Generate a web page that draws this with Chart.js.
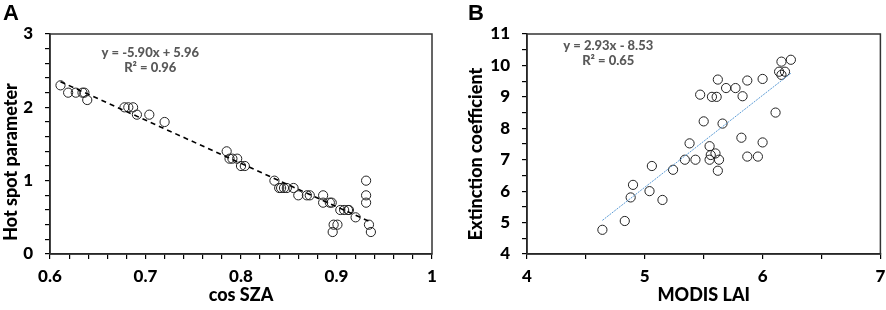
<!DOCTYPE html>
<html>
<head>
<meta charset="utf-8">
<script src="https://cdn.jsdelivr.net/npm/chart.js@4.4.1/dist/chart.umd.min.js"></script>
<style>
  html, body { margin: 0; padding: 0; background: #fff; }
  #wrap { position: relative; width: 886px; height: 310px; }
  canvas { position: absolute; top: 0; }
</style>
</head>
<body>
<div id="wrap">
  <canvas id="chartA" width="443" height="310" style="left:0"></canvas>
  <canvas id="chartB" width="443" height="310" style="left:443px"></canvas>
</div>
<script>
"use strict";

// Panel A: hot spot parameter vs cos SZA
const cosSza = [0.611, 0.619, 0.627, 0.634, 0.636, 0.639, 0.678, 0.682, 0.687, 0.691, 0.704, 0.720,
  0.785, 0.788, 0.791, 0.796, 0.800, 0.804, 0.835, 0.840, 0.842, 0.845, 0.848, 0.855, 0.860,
  0.869, 0.872, 0.886, 0.886, 0.893, 0.895, 0.897, 0.901, 0.896, 0.904, 0.908, 0.912, 0.913,
  0.920, 0.931, 0.931, 0.931, 0.934, 0.936];
const hotSpot = [2.3, 2.2, 2.2, 2.2, 2.2, 2.1, 2.0, 2.0, 2.0, 1.9, 1.9, 1.8,
  1.4, 1.3, 1.3, 1.3, 1.2, 1.2, 1.0, 0.9, 0.9, 0.9, 0.9, 0.9, 0.8,
  0.8, 0.8, 0.8, 0.7, 0.7, 0.7, 0.4, 0.4, 0.3, 0.6, 0.6, 0.6, 0.6,
  0.5, 1.0, 0.8, 0.7, 0.4, 0.3];
const fitAx = [0.611, 0.935];
const fitAy = [2.35, 0.44];
const eqA = ['y = -5.90x + 5.96', 'R² = 0.96'];

// Panel B: extinction coefficient vs MODIS LAI
const modisLai = [4.64, 4.83, 4.88, 4.90, 5.04, 5.06, 5.15, 5.24, 5.34, 5.38, 5.43, 5.47, 5.50,
  5.55, 5.55, 5.56, 5.57, 5.60, 5.61, 5.62, 5.62, 5.63, 5.66, 5.69, 5.77, 5.82, 5.83, 5.87,
  5.87, 5.96, 6.00, 6.00, 6.11, 6.14, 6.16, 6.16, 6.19, 6.24];
const extCoef = [4.77, 5.05, 5.8, 6.2, 6.0, 6.8, 5.72, 6.68, 7.0, 7.52, 7.0, 9.07, 8.22,
  7.0, 7.43, 7.15, 9.0, 7.2, 9.0, 9.55, 6.65, 7.0, 8.15, 9.28, 9.28, 7.7, 9.02, 9.52,
  7.1, 7.1, 9.57, 7.55, 8.5, 9.8, 10.12, 9.7, 9.8, 10.18];
const fitBx = [4.64, 6.24];
const fitBy = [5.07, 9.75];
const eqB = ['y = 2.93x - 8.53', 'R² = 0.65'];

Chart.defaults.font.family = 'Lato, "Open Sans", sans-serif';
Chart.defaults.color = '#000';

function pts(xs, ys) {
  return xs.map((x, i) => ({ x: x, y: ys[i] }));
}

// frame, panel letter, y title and equation text
function decorPlugin(p) {
  return {
    id: 'decor' + p.letter,
    afterDraw(chart) {
      const ctx = chart.ctx;
      const a = chart.chartArea;
      ctx.save();
      ctx.strokeStyle = '#333';
      ctx.lineWidth = 1.5;
      ctx.strokeRect(a.left, a.top, a.right - a.left, a.bottom - a.top);

      ctx.fillStyle = '#000';
      ctx.font = 'bold 22px "Liberation Sans", Arial, sans-serif';
      ctx.textAlign = 'left';
      ctx.textBaseline = 'middle';
      ctx.fillText(p.letter, p.letterX, 14);

      // y axis title, sits a little below the plot centre like the original
      ctx.save();
      ctx.translate(p.yTitleX, p.yTitleY);
      ctx.rotate(-Math.PI / 2);
      ctx.font = '900 18px Lato, sans-serif';
      ctx.textAlign = 'center';
      ctx.fillText(p.yTitle, 0, 0);
      ctx.restore();

      ctx.fillStyle = '#595959';
      ctx.font = '900 13px Lato, sans-serif';
      ctx.textAlign = 'center';
      const sx = chart.scales.x, sy = chart.scales.y;
      p.eq.forEach((t, i) => {
        ctx.fillText(t, sx.getPixelForValue(p.eqX), sy.getPixelForValue(p.eqY[i]));
      });
      ctx.restore();
    }
  };
}

function buildOptions(cfg) {
  const tickFont = { size: 17, weight: '900' };
  const titleFont = { size: 18, weight: '900' };
  return {
    responsive: false,
    animation: false,
    layout: { padding: { top: 34, right: cfg.padRight, left: 0, bottom: 0 } },
    plugins: { legend: { display: false }, tooltip: { enabled: false } },
    scales: {
      x: {
        type: 'linear',
        min: cfg.xMin, max: cfg.xMax,
        border: { display: true, color: '#000', width: 1.5 },
        grid: { drawOnChartArea: false, drawTicks: true, tickLength: 5, color: '#000', lineWidth: 1.2 },
        ticks: {
          stepSize: cfg.xStep, padding: 7, font: tickFont, maxRotation: 0, autoSkip: false,
          callback: cfg.xLabel
        },
        title: { display: true, text: cfg.xTitle, font: titleFont, padding: { top: 0, bottom: 4 } },
        afterFit(s) { s.height = 56; s.paddingLeft = 0; s.paddingRight = 0; }
      },
      y: {
        type: 'linear',
        min: cfg.yMin, max: cfg.yMax,
        border: { display: true, color: '#000', width: 1.5 },
        grid: { drawOnChartArea: false, drawTicks: true, tickLength: 5, color: '#000', lineWidth: 1.2 },
        ticks: {
          stepSize: cfg.yStep, padding: 12, font: tickFont, autoSkip: false,
          callback: cfg.yLabel
        },
        title: { display: false },
        afterFit(s) { s.width = cfg.yWidth; s.paddingTop = 0; s.paddingBottom = 0; }
      }
    }
  };
}

function onMultiple(v, m) {
  return Math.abs(v / m - Math.round(v / m)) < 1e-6;
}

const circleStyle = {
  pointStyle: 'circle', pointRadius: 4.6, pointBorderWidth: 1,
  pointBorderColor: '#222', pointBackgroundColor: 'rgba(255,255,255,0)', showLine: false
};

new Chart(document.getElementById('chartA'), {
  type: 'scatter',
  data: {
    datasets: [
      Object.assign({ data: pts(cosSza, hotSpot), order: 2 }, circleStyle),
      {
        type: 'line', data: pts(fitAx, fitAy), order: 1,
        borderColor: '#000', borderWidth: 1.6, borderDash: [5, 4],
        pointRadius: 0, fill: false, tension: 0
      }
    ]
  },
  options: buildOptions({
    xMin: 0.6, xMax: 1, xStep: 0.02, yMin: 0, yMax: 3, yStep: 0.2,
    xLabel: v => onMultiple(v, 0.1) ? (Math.abs(v - 1) < 1e-6 ? '1' : v.toFixed(1)) : '',
    yLabel: v => onMultiple(v, 1) ? String(Math.round(v)) : '',
    xTitle: 'cos SZA',
    yWidth: 50, padRight: 11
  }),
  plugins: [decorPlugin({
    letter: 'A', letterX: 3, yTitle: 'Hot spot parameter', yTitleX: 11, yTitleY: 162,
    eq: eqA, eqX: 0.705, eqY: [2.74, 2.54]
  })]
});

new Chart(document.getElementById('chartB'), {
  type: 'scatter',
  data: {
    datasets: [
      Object.assign({ data: pts(modisLai, extCoef), order: 2 }, circleStyle),
      {
        type: 'line', data: pts(fitBx, fitBy), order: 1,
        borderColor: '#5b9bd5', borderWidth: 1, borderDash: [2, 1],
        pointRadius: 0, fill: false, tension: 0
      }
    ]
  },
  options: buildOptions({
    xMin: 4, xMax: 7, xStep: 0.5, yMin: 4, yMax: 11, yStep: 0.5,
    xLabel: v => onMultiple(v, 1) ? String(Math.round(v)) : '',
    yLabel: v => onMultiple(v, 1) ? String(Math.round(v)) : '',
    xTitle: 'MODIS LAI',
    yWidth: 84, padRight: 5
  }),
  plugins: [decorPlugin({
    letter: 'B', letterX: 25, yTitle: 'Extinction coefficient', yTitleX: 33, yTitleY: 154,
    eq: eqB, eqX: 4.69, eqY: [10.62, 10.14]
  })]
});
</script>
</body>
</html>
